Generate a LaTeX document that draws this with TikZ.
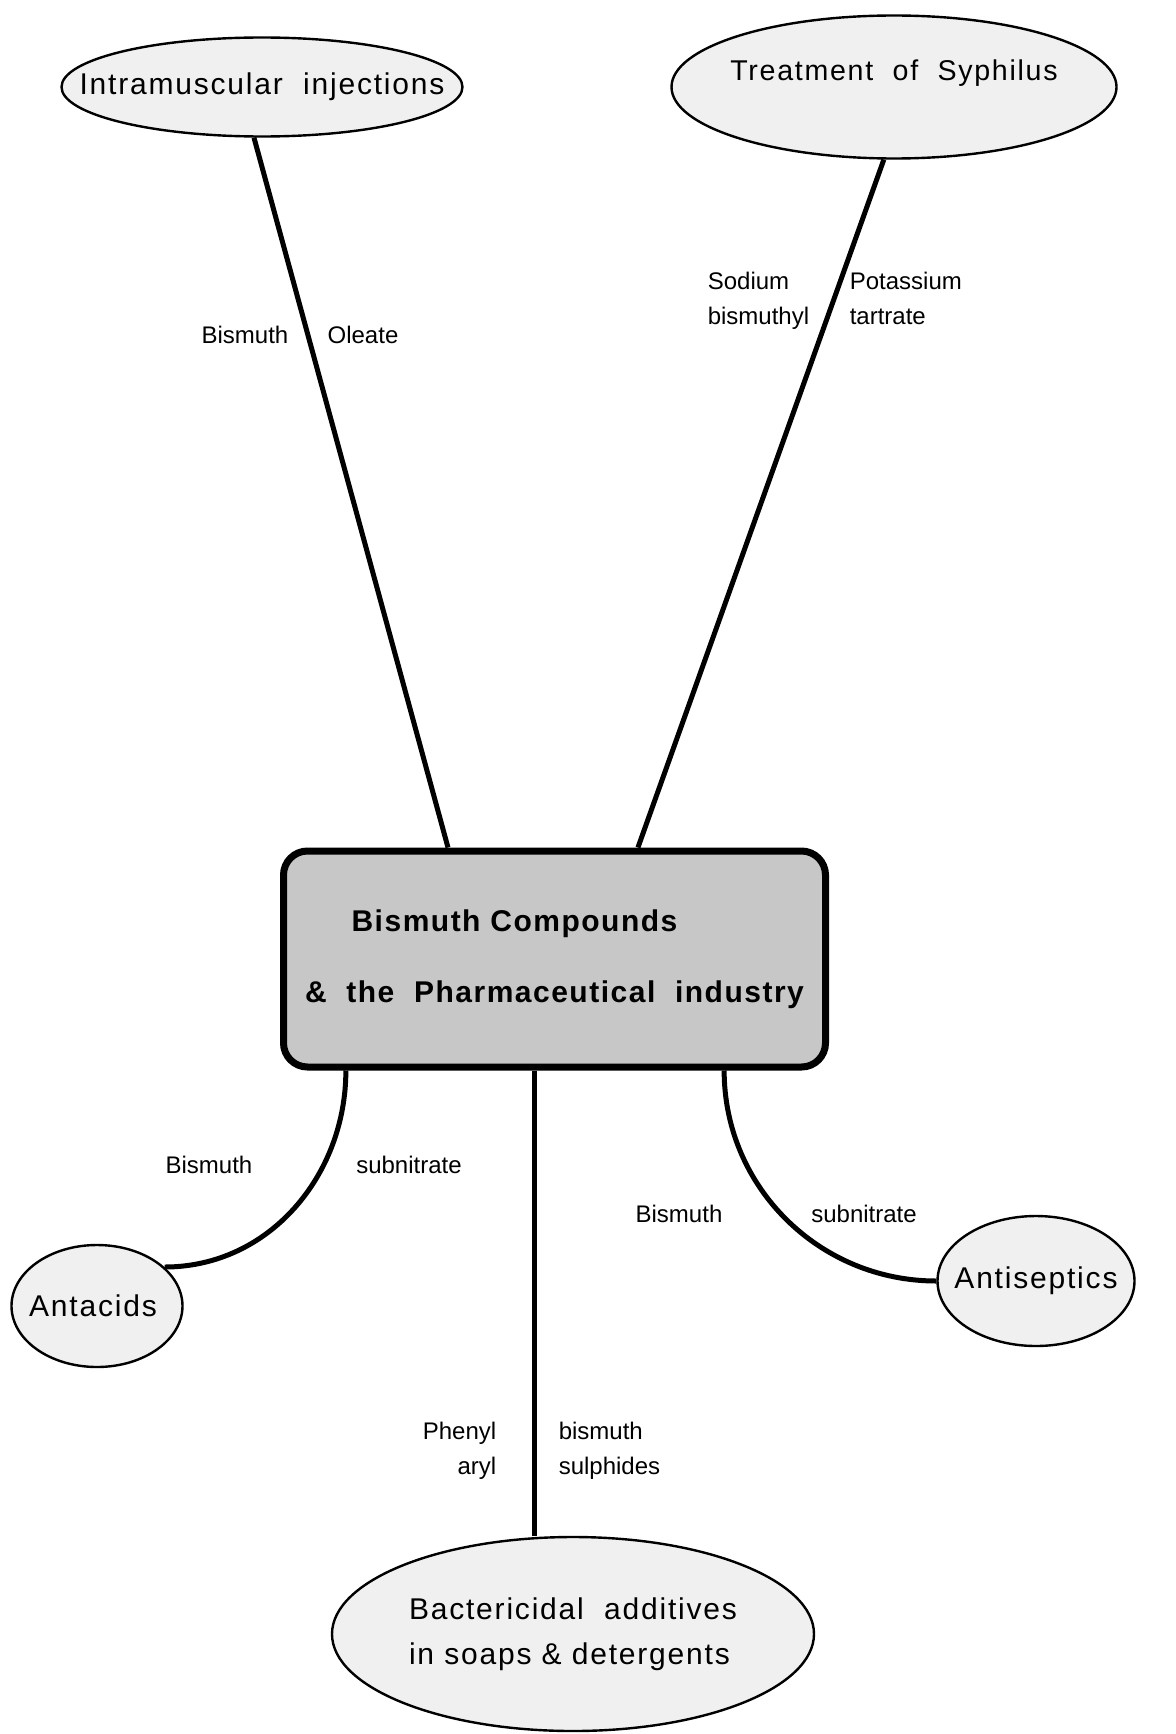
\documentclass[tikz,border=0pt]{standalone}
\usepackage{fontspec}
\setmainfont{Liberation Sans}
\newfontfamily\bubblefont[LetterSpace=6]{Liberation Sans}
\newfontfamily\boxfont[LetterSpace=5]{Liberation Sans}
\usetikzlibrary{shapes,shapes.geometric,calc,positioning}

\begin{document}
\begin{tikzpicture}
	[x=0.5pt,y=-0.5pt,thick,
	bubble/.style={ellipse,draw,line width=1.2pt,fill=black!6,inner sep=0pt},
	bubbletext/.style={font=\bubblefont\fontsize{15}{22.5}\selectfont,align=left,inner sep=0pt},
	link/.style={line width=2.5pt},
	tag/.style={font=\fontsize{12}{17.5}\selectfont,inner sep=0pt}]
	\useasboundingbox (0,0) rectangle (1175,1734);

	% centre box
	\node[draw,line width=3.5pt,rounded corners=12pt,fill=black!22,minimum width=271pt,
		minimum height=108pt,align=center,font=\boxfont\bfseries\fontsize{15}{35.5}\selectfont]
		(bic) at (554.5,959) {Bismuth Compounds\hspace*{40pt}\\\&~~the~~Pharmaceutical~~industry};

	% uses
	\node[bubble,minimum width=200.5pt,minimum height=49.5pt,
		label={[bubbletext]center:Intramuscular~~injections}] (intra) at (262,87) {};
	\node[bubble,minimum width=222.5pt,minimum height=71.5pt,
		label={[bubbletext,yshift=7pt,font=\bubblefont\fontsize{14.3}{22.5}\selectfont]center:Treatment~~of~~Syphilus}]
		(syph) at (894,87) {};
	\node[bubble,minimum width=85.5pt,minimum height=61pt,
		label={[bubbletext,xshift=-2pt]center:Antacids}] (antacid) at (97,1306) {};
	\node[bubble,minimum width=98.5pt,minimum height=65pt,
		label={[bubbletext]center:Antiseptics}] (antisep) at (1036,1281) {};
	\node[bubble,minimum width=241pt,minimum height=97pt,
		label={[bubbletext]center:Bactericidal~~additives\\in soaps \& detergents}] (bact) at (573,1634) {};

	\foreach \from/\pos in {intra.-99/0.306, syph.-98/0.652}
		\draw[link] (\from) -- ($(bic.north west)!\pos!(bic.north east)$);
	\draw[link] ($(bic.south west)!0.12!(bic.south east)$) to[out=-90,in=0] (antacid.30);
	\draw[link] ($(bic.south west)!0.464!(bic.south east)$) coordinate (mid) -- (mid |- bact.north);
	\draw[link] ($(bic.south west)!0.809!(bic.south east)$) to[out=-90,in=180] (antisep.west);

	% compound names
	\node[tag] (bo1) at (245,335) {Bismuth};
	\node[tag] (bo2) at (363,335) {Oleate};
	\node[tag,anchor=west,align=left] (sb1) at (707,301) {Sodium\\bismuthyl};
	\node[tag,anchor=west,align=left] (sb2) at (849,298) {Potassium\\tartrate};
	\node[tag] (bs1) at (209,1165) {Bismuth};
	\node[tag] (bs2) at (409,1165) {subnitrate};
	\node[tag] (bs3) at (679,1214) {Bismuth};
	\node[tag] (bs4) at (864,1214) {subnitrate};
	\node[tag,anchor=east,align=right] (pa1) at (497,1451) {Phenyl\\aryl};
	\node[tag,anchor=west,align=left] (pa2) at (558,1451) {bismuth\\sulphides};
\end{tikzpicture}
\end{document}
